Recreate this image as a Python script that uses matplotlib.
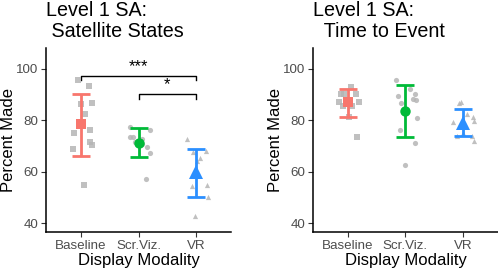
import numpy as np
import matplotlib
matplotlib.use('Agg')
import matplotlib.pyplot as plt

plt.rcParams['font.family'] = ['Liberation Sans', 'DejaVu Sans']

groups = ['Baseline', 'Scr.Viz.', 'VR']
colors = ['#F8766D', '#00BA38', '#2B8FFF']
markers = ['s', 'o', '^']

# satellite states panel
sat_mean = [78.5, 71.3, 60.0]
sat_lo = [66.3, 65.6, 50.1]
sat_hi = [90.3, 76.9, 68.9]
sat_pts = [
    [95.7, 93.4, 86.5, 86.8, 82.5, 76.3, 75.2, 71.7, 70.4, 68.9, 54.9],
    [77.4, 76.1, 73.7, 73.4, 72.8, 71.7, 70.8, 69.8, 67.4, 57.1],
    [72.8, 67.8, 68.1, 65.5, 64.2, 54.5, 54.9, 50.1, 42.9],
]
sat_jit = [
    [-0.04, 0.14, 0.01, 0.19, 0.08, 0.16, -0.12, 0.16, 0.19, -0.13, 0.05],
    [-0.14, 0.19, -0.15, -0.09, 0.06, -0.06, 0.06, 0.15, 0.2, 0.13],
    [-0.16, -0.05, 0.17, 0.06, 0.01, -0.07, 0.19, 0.2, -0.02],
]

# time to event panel
tte_mean = [87.1, 83.7, 79.1]
tte_lo = [81.2, 73.7, 73.9]
tte_hi = [92.2, 93.8, 84.3]
tte_pts = [
    [93.1, 90.3, 90.3, 90.3, 87.0, 87.0, 85.6, 85.6, 81.1, 73.4],
    [95.7, 92.2, 89.5, 90.3, 88.3, 87.7, 86.7, 80.8, 76.3, 71.1, 62.6],
    [86.7, 87.0, 82.5, 79.5, 81.2, 79.9, 75.0, 74.0, 72.0, 74.0],
]
tte_jit = [
    [0.05, -0.12, -0.06, 0.14, -0.15, 0.2, 0.07, -0.08, 0.02, 0.16],
    [-0.16, 0.07, -0.13, 0.16, 0.13, 0.19, -0.07, 0.2, -0.1, 0.16, 0.0],
    [-0.07, -0.04, 0.06, -0.17, 0.17, 0.19, 0.0, 0.15, 0.19, -0.11],
]

fig = plt.figure(figsize=(4.98, 2.70), dpi=100)
ax1 = fig.add_axes([0.0924, 0.1396, 0.3715, 0.6837])
ax2 = fig.add_axes([0.6285, 0.1396, 0.3715, 0.6837])


def draw_panel(ax, means, lo, hi, pts, jit, title):
    for i in range(3):
        x = i + 1
        xs = x + np.array(jit[i])
        ax.scatter(xs, pts[i], marker=markers[i], s=14, color='#B5B5B5',
                   alpha=0.85, linewidths=0, zorder=2)
        ax.errorbar([x], [means[i]],
                    yerr=[[means[i] - lo[i]], [hi[i] - means[i]]],
                    fmt='none', ecolor=colors[i], elinewidth=2,
                    capsize=6.2, capthick=2, zorder=3)
        ms = 9.5 if markers[i] == '^' else 7.5
        ax.plot([x], [means[i]], marker=markers[i], color=colors[i],
                markersize=ms, markeredgewidth=0, zorder=4)
    ax.set_xlim(0.4, 3.6)
    ax.set_ylim(36.5, 108.2)
    ax.set_xticks([1, 2, 3])
    ax.set_xticklabels(groups)
    ax.set_yticks([40, 60, 80, 100])
    for s in ['top', 'right']:
        ax.spines[s].set_visible(False)
    for s in ['left', 'bottom']:
        ax.spines[s].set_linewidth(1.1)
        ax.spines[s].set_color('black')
    ax.tick_params(axis='both', length=3.5, width=0.8, color='#333333',
                   labelcolor='#4D4D4D', labelsize=9.6, pad=2)
    ax.set_xlabel('Display Modality', fontsize=12, labelpad=1)
    ax.set_ylabel('Percent Made', fontsize=12, labelpad=0)
    ax.set_title(title, loc='left', fontsize=14.2, pad=8, linespacing=1.08)


draw_panel(ax1, sat_mean, sat_lo, sat_hi, sat_pts, sat_jit,
           'Level 1 SA:\n Satellite States')
draw_panel(ax2, tte_mean, tte_lo, tte_hi, tte_pts, tte_jit,
           'Level 1 SA:\n  Time to Event')

# significance brackets
ax1.plot([1, 1, 3, 3], [95.7, 97.2, 97.2, 95.7], color='black', lw=1, zorder=1)
ax1.text(2, 98.0, '***', ha='center', va='bottom', fontsize=12)
ax1.plot([2, 2, 3, 3], [88.4, 90.2, 90.2, 88.4], color='black', lw=1, zorder=1)
ax1.text(2.5, 91.0, '*', ha='center', va='bottom', fontsize=12)

fig.savefig('out.png', dpi=100)
